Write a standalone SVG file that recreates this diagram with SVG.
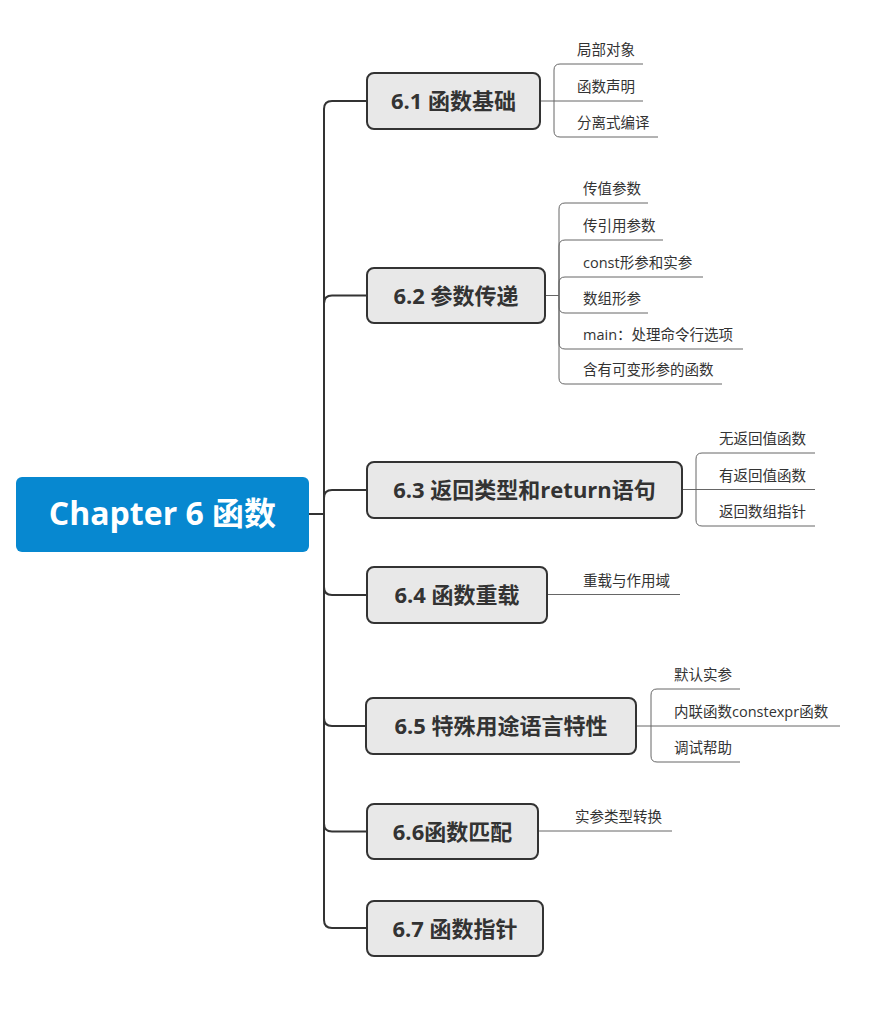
<svg xmlns="http://www.w3.org/2000/svg" width="872" height="1024" viewBox="0 0 872 1024">
<style>
.main rect{fill:#e8e8e8;stroke:#333;stroke-width:2}
.main text{font-family:"Open Sans","Noto Sans CJK SC",sans-serif;font-size:22px;font-weight:bold;fill:#333;text-anchor:middle}
.trunk{fill:none;stroke:#333;stroke-width:2}
.sub{fill:none;stroke:#666;stroke-width:1}
.leaf{font-family:"Open Sans","Noto Sans CJK SC",sans-serif;font-size:14.5px;fill:#333}
</style>
<rect width="872" height="1024" fill="#fff"/>
<g id="connectors">
<path class="trunk" d="M309 514H324V109Q324 101 332 101H367"/>
<path class="trunk" d="M324 514V303.5Q324 295.5 332 295.5H367"/>
<path class="trunk" d="M324 514V498Q324 490 332 490H367"/>
<path class="trunk" d="M324 514V587Q324 595 332 595H367"/>
<path class="trunk" d="M324 514V718Q324 726 332 726H367"/>
<path class="trunk" d="M324 514V823.5Q324 831.5 332 831.5H367"/>
<path class="trunk" d="M324 514V920Q324 928 332 928H367"/>
<path class="sub" d="M540 101H643"/>
<path class="sub" d="M554 101V70Q554 64 560 64H643"/>
<path class="sub" d="M554 101V131Q554 137 560 137H658"/>
<path class="sub" d="M545 295.5H559"/>
<path class="sub" d="M559 295.5V209Q559 203 565 203H648"/>
<path class="sub" d="M559 295.5V246Q559 240 565 240H663"/>
<path class="sub" d="M559 295.5V283Q559 277 565 277H703"/>
<path class="sub" d="M559 295.5V307Q559 313 565 313H648"/>
<path class="sub" d="M559 295.5V343Q559 349 565 349H743"/>
<path class="sub" d="M559 295.5V378Q559 384 565 384H722"/>
<path class="sub" d="M682 489.5H815"/>
<path class="sub" d="M696 489.5V459Q696 453 702 453H815"/>
<path class="sub" d="M696 489.5V520Q696 526 702 526H815"/>
<path class="sub" d="M547 594.5H680"/>
<path class="sub" d="M636 726H840"/>
<path class="sub" d="M651 726V695Q651 689 657 689H740"/>
<path class="sub" d="M651 726V756Q651 762 657 762H740"/>
<path class="sub" d="M538 831H672"/>
</g>
<g id="root">
<rect x="16" y="477" width="293" height="75" rx="6" fill="#0788d0"/>
<text x="162.5" y="525" font-family="'Open Sans','Noto Sans CJK SC',sans-serif" font-size="32" font-weight="bold" fill="#fff" text-anchor="middle">Chapter 6 函数</text>
</g>
<g id="n61" class="main">
<rect x="367" y="73" width="173" height="56" rx="7"/>
<text x="453.5" y="109">6.1 函数基础</text>
</g>
<g id="n61c">
<text class="leaf" x="577" y="55">局部对象</text>
<text class="leaf" x="577" y="92">函数声明</text>
<text class="leaf" x="577" y="128">分离式编译</text>
</g>
<g id="n62" class="main">
<rect x="367" y="268" width="178" height="55" rx="7"/>
<text x="456" y="303.5">6.2 参数传递</text>
</g>
<g id="n62c">
<text class="leaf" x="583" y="194">传值参数</text>
<text class="leaf" x="583" y="231">传引用参数</text>
<text class="leaf" x="583" y="268">const形参和实参</text>
<text class="leaf" x="583" y="304">数组形参</text>
<text class="leaf" x="583" y="340">main：处理命令行选项</text>
<text class="leaf" x="583" y="375">含有可变形参的函数</text>
</g>
<g id="n63" class="main">
<rect x="367" y="462" width="315" height="56" rx="7"/>
<text x="524.5" y="498">6.3 返回类型和return语句</text>
</g>
<g id="n63c">
<text class="leaf" x="719" y="444">无返回值函数</text>
<text class="leaf" x="719" y="480.5">有返回值函数</text>
<text class="leaf" x="719" y="517">返回数组指针</text>
</g>
<g id="n64" class="main">
<rect x="367" y="567" width="180" height="56" rx="7"/>
<text x="457" y="603">6.4 函数重载</text>
</g>
<g id="n64c">
<text class="leaf" x="583" y="585.5">重载与作用域</text>
</g>
<g id="n65" class="main">
<rect x="366" y="698" width="270" height="56" rx="7"/>
<text x="501" y="734">6.5 特殊用途语言特性</text>
</g>
<g id="n65c">
<text class="leaf" x="674" y="680">默认实参</text>
<text class="leaf" x="674" y="717">内联函数constexpr函数</text>
<text class="leaf" x="674" y="753">调试帮助</text>
</g>
<g id="n66" class="main">
<rect x="367" y="804" width="171" height="55" rx="7"/>
<text x="452.5" y="839.5">6.6函数匹配</text>
</g>
<g id="n66c">
<text class="leaf" x="575" y="822">实参类型转换</text>
</g>
<g id="n67" class="main">
<rect x="367" y="901" width="176" height="55" rx="7"/>
<text x="455" y="936.5">6.7 函数指针</text>
</g>
</svg>
